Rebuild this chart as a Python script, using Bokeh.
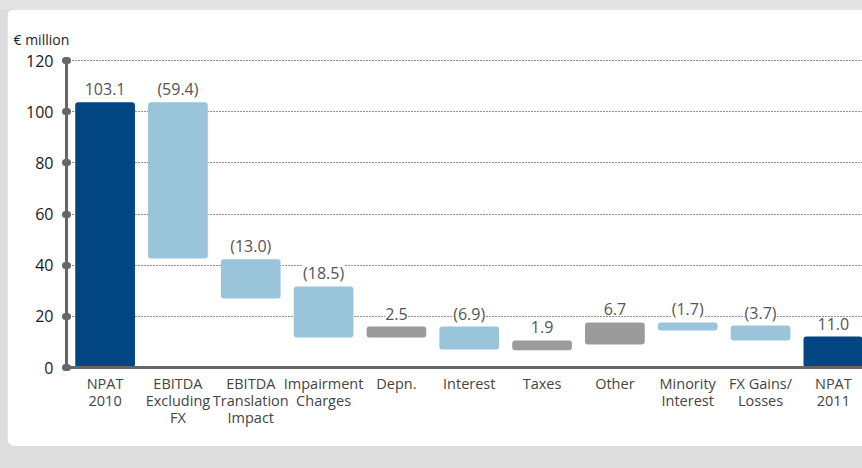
from bokeh.plotting import figure
from bokeh.models import Range1d, FixedTicker, ColumnDataSource, LabelSet, Title
from bokeh.core.properties import value
from bokeh.layouts import column
from bokeh.embed import file_html
from bokeh.resources import INLINE

categories = ["NPAT\n2010", "EBITDA\nExcluding\nFX", "EBITDA\nTranslation\nImpact",
              "Impairment\nCharges", "Depn.", "Interest", "Taxes", "Other",
              "Minority\nInterest", "FX Gains/\nLosses", "NPAT\n2011"]
value_labels = ["103.1", "(59.4)", "(13.0)", "(18.5)", "2.5", "(6.9)", "1.9", "6.7",
                "(1.7)", "(3.7)", "11.0"]
bar_low = [0, 42.6, 27.0, 11.7, 11.7, 7.0, 6.7, 9.0, 14.5, 10.6, 0]
bar_high = [103.7, 103.7, 42.3, 31.7, 16.0, 16.0, 10.6, 17.6, 17.6, 16.4, 12.1]
kinds = ["total", "decrease", "decrease", "decrease", "increase", "decrease",
         "increase", "increase", "decrease", "decrease", "total"]
y_ticks = [0, 20, 40, 60, 80, 100, 120]

kind_colors = {"total": "#014583", "decrease": "#99c4da", "increase": "#9b9b9b"}
FONT = "Open Sans"

xs = list(range(len(categories)))
src = ColumnDataSource(dict(
    x=xs, low=bar_low, high=bar_high, label=value_labels,
    color=[kind_colors[k] for k in kinds],
))

p = figure(width=855, height=437, output_backend="svg", toolbar_location=None,
           x_range=Range1d(-0.53, 10.4), y_range=Range1d(0, 121.2),
           min_border_left=59, min_border_right=0, min_border_top=48,
           min_border_bottom=79, margin=(9, 0, 0, 7),
           background_fill_color="white", border_fill_color="white",
           outline_line_color=None)
p.styles = {"border-radius": "8px 0 0 8px", "overflow": "hidden"}

title = Title(text="€ million", align="left", offset=-53, text_font=FONT,
              text_font_size="14px", text_font_style="normal", text_color="#222222",
              standoff=18)
p.add_layout(title, "above")

p.vbar(x="x", bottom="low", top="high", width=0.82, fill_color="color",
       line_color=None, border_radius=3, source=src)

labels = LabelSet(x="x", y="high", text="label", source=src, text_align="center",
                  text_baseline="alphabetic", y_offset=7, text_font=value(FONT),
                  text_font_size=value("16px"), text_color="#555555",
                  background_fill_color="white")
p.add_layout(labels)

# axes
p.xaxis.ticker = FixedTicker(ticks=xs)
p.xaxis.major_label_overrides = {i: c for i, c in enumerate(categories)}
p.xaxis.major_tick_line_color = None
p.xaxis.minor_tick_line_color = None
p.xaxis.axis_line_color = "#666666"
p.xaxis.axis_line_width = 3
p.xaxis.major_label_text_font = FONT
p.xaxis.major_label_text_font_size = "14.5px"
p.xaxis.major_label_text_color = "#444444"
p.xaxis.major_label_standoff = 0
p.xaxis.major_label_text_line_height = 0.92

p.yaxis.ticker = FixedTicker(ticks=y_ticks)
p.yaxis.axis_line_color = "#666666"
p.yaxis.axis_line_width = 3
p.yaxis.major_tick_line_color = "#666666"
p.yaxis.major_tick_line_width = 7
p.yaxis.major_tick_line_cap = "round"
p.yaxis.major_tick_in = 1
p.yaxis.major_tick_out = 1
p.yaxis.minor_tick_line_color = None
p.yaxis.major_label_text_font = FONT
p.yaxis.major_label_text_font_size = "16px"
p.yaxis.major_label_text_color = "#1a1a1a"
p.yaxis.major_label_standoff = 12

p.xgrid.grid_line_color = None
p.ygrid.ticker = FixedTicker(ticks=y_ticks[1:])
p.ygrid.grid_line_color = "#222222"
p.ygrid.grid_line_dash = "1 2"
p.ygrid.grid_line_width = 1
p.ygrid.level = "underlay"

layout = column(p, width=862, height=468,
                styles={"background": "linear-gradient(to bottom, #e4e4e4 0px, #e4e4e4 9px, #dcdddc 9px)"})

open("out.html", "w").write(file_html(layout, INLINE))
